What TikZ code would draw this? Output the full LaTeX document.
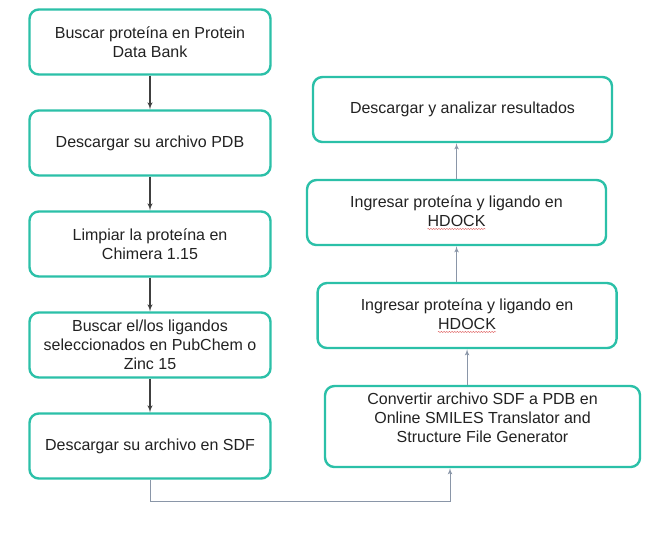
\documentclass[tikz,border=0pt]{standalone}
\usepackage{fontspec}
\setmainfont{Liberation Sans}
\usetikzlibrary{shapes, arrows, positioning, decorations.pathmorphing}
\definecolor{boxteal}{HTML}{2BC0A8}
\definecolor{arrowdark}{HTML}{404040}
\definecolor{arrowslate}{HTML}{8A96A8}
\definecolor{textdark}{HTML}{222222}
\definecolor{spellred}{HTML}{E06060}
\tikzstyle{block} = [rectangle, draw=boxteal, line width=1.8pt, fill=white, text=textdark,
    align=center, rounded corners=7pt, minimum width=180.75pt, minimum height=48.75pt,
    font=\fontsize{12}{14.4}\selectfont]
\tikzstyle{wide} = [block, minimum width=224.25pt]
\tikzstyle{line} = [draw, arrowdark, line width=0.8pt, -latex']
\tikzstyle{upline} = [draw, arrowslate, line width=0.6pt, -latex']
\newcommand{\spellmark}[1]{\tikz[baseline=(word.base)]{\node [inner sep=0pt, minimum size=0pt,
        draw=none, fill=none] (word) {#1};
    \draw [spellred, line width=0.3pt, sharp corners, decorate,
        decoration={snake, amplitude=0.45pt, segment length=2pt}]
        ([yshift=-2pt]word.base west) -- ([yshift=-2pt]word.base east);}}

\begin{document}
\begin{tikzpicture}[node distance = 75.75pt, auto]
        \useasboundingbox (0,0) rectangle (489.75pt,-403.5pt);
        % Place nodes
        \node [block] at (112.5pt,-31.5pt) (buscar) {Buscar proteína en Protein\\Data Bank};
        \node [block, below of=buscar] (pdb) {Descargar su archivo PDB};
        \node [block, below of=pdb] (limpiar) {Limpiar la proteína en\\Chimera 1.15};
        \node [block, below of=limpiar] (ligandos) {Buscar el/los ligandos\\seleccionados en PubChem o\\Zinc 15};
        \node [block, below of=ligandos] (sdf) {Descargar su archivo en SDF};
        \node [wide, right of=sdf, node distance=249.4pt, yshift=14.6pt,
            minimum width=236.25pt, minimum height=60.75pt] (convertir)
            {Convertir archivo SDF a PDB en\\Online SMILES Translator and\\Structure File Generator\\[-1pt]\mbox{}};
        \node [wide, above of=convertir, node distance=83.25pt, xshift=-11.6pt] (hdockb) {Ingresar proteína y ligando en\\\spellmark{HDOCK}};
        \node [wide, above of=hdockb, node distance=77.25pt, xshift=-7.9pt] (hdocka) {Ingresar proteína y ligando en\\\spellmark{HDOCK}};
        \node [wide, above of=hdocka, node distance=77.25pt, xshift=4.5pt] (resultados) {Descargar y analizar resultados};
        % Draw edges
        \path [line] (buscar) -- (pdb);
        \path [line] (pdb) -- (limpiar);
        \path [line] (limpiar) -- (ligandos);
        \path [line] (ligandos) -- (sdf);
        \path [upline] (sdf.south) -- ++(0,-16.5pt) -| ([xshift=-24.4pt]convertir.south);
        \path [upline] (hdockb.south |- convertir.north) -- (hdockb.south);
        \path [upline] (hdocka.south |- hdockb.north) -- (hdocka.south);
        \path [upline] (hdocka.north) -- (hdocka.north |- resultados.south);
    \end{tikzpicture}
\end{document}
